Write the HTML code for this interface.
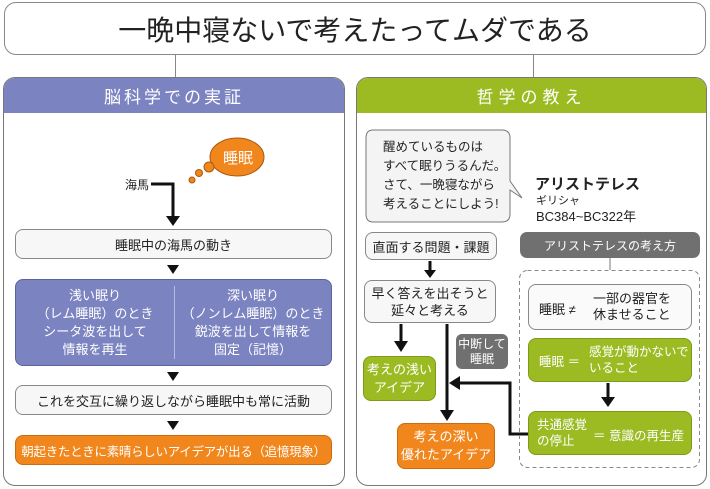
<!DOCTYPE html>
<html><head><meta charset="utf-8"><style>
*{margin:0;padding:0;box-sizing:border-box}
body{width:710px;height:489px;background:#fff;position:relative;overflow:hidden;font-family:"Liberation Sans","Noto Sans CJK JP",sans-serif;color:#222}
.a{position:absolute}
span{white-space:nowrap}
.c{display:flex;align-items:center;justify-content:center;text-align:center;white-space:nowrap}
.box{border:1px solid #888;border-radius:8px;background:#f7f7f7}
.g{background:#9cbb23;color:#fff;border:1px solid #7d9a18;border-radius:8px}
.o{background:#f0861c;color:#fff;border:1px solid #c96c10;border-radius:8px}
.tri{width:0;height:0;border-left:6px solid transparent;border-right:6px solid transparent;border-top:9px solid #111}
</style></head><body>
<div class="a c box" style="left:4px;top:2px;width:702px;height:53px;background:#fff;border-radius:12px;font-size:28px;color:#222">一晩中寝ないで考えたってムダである</div>
<div class="a" style="left:175px;top:55px;width:1px;height:22px;background:#888"></div>
<div class="a" style="left:533px;top:55px;width:1px;height:22px;background:#888"></div>

<div class="a" style="left:3px;top:77px;width:342px;height:409px;border:1px solid #777;border-radius:12px;overflow:hidden">
<div class="c" style="height:35px;background:#7b83c0;color:#fff;font-size:17px;letter-spacing:3px">脳科学での実証</div></div>
<div class="a" style="left:356px;top:77px;width:351px;height:409px;border:1px solid #777;border-radius:12px;overflow:hidden">
<div class="c" style="height:35px;background:#9cbb23;color:#fff;font-size:17px;letter-spacing:5px">哲学の教え</div></div>

<svg class="a" style="left:0;top:0" width="710" height="489">
<ellipse cx="237" cy="157" rx="27" ry="19" fill="#f0861c" stroke="#a85a10"/>
<circle cx="209" cy="167" r="5" fill="#f0861c" stroke="#a85a10"/>
<circle cx="199" cy="173" r="3.5" fill="#f0861c" stroke="#a85a10"/>
<circle cx="192" cy="180" r="3" fill="#f0861c" stroke="#a85a10"/>
<polyline points="151,184 173,184 173,218" fill="none" stroke="#111" stroke-width="3"/>
<polygon points="166,216 180,216 173,226" fill="#111"/>
<path d="M373,130 H502 Q510,130 510,138 V181 L522,198 L510,190 V214 Q510,222 502,222 H373 Q366,222 366,214 V138 Q366,130 373,130Z" fill="#f4f4f4" stroke="#777"/>
<line x1="430" y1="261" x2="430" y2="271" stroke="#111" stroke-width="3"/><polygon points="424,270 436,270 430,278" fill="#111"/>
<line x1="401" y1="324" x2="401" y2="342" stroke="#111" stroke-width="3"/><polygon points="394,341 408,341 401,352" fill="#111"/>
<line x1="447" y1="324" x2="447" y2="410" stroke="#111" stroke-width="3"/><polygon points="440,410 454,410 447,421" fill="#111"/>
<polyline points="528,434 510,434 510,383 458,383" fill="none" stroke="#111" stroke-width="3"/><polygon points="449,383 460,376 460,390" fill="#111"/>
<line x1="610" y1="258" x2="610" y2="270" stroke="#777"/>
<rect x="519.5" y="270.5" width="180" height="197" rx="8" fill="none" stroke="#888" stroke-dasharray="4,3"/>
<line x1="608" y1="383" x2="608" y2="398" stroke="#111" stroke-width="3"/><polygon points="601,397 615,397 608,407" fill="#111"/>
</svg>
<div class="a c" style="left:215px;top:145px;width:46px;height:24px;color:#fff;font-size:15px">睡眠</div>
<div class="a" style="left:125px;top:176px;font-size:12px">海馬</div>

<div class="a c box" style="left:15px;top:229px;width:317px;height:30px;font-size:13px">睡眠中の海馬の動き</div>
<div class="a tri" style="left:167px;top:265px"></div>
<div class="a" style="left:15px;top:279px;width:317px;height:87px;background:#7b83c0;border:1px solid #5b639d;border-radius:8px;color:#fff;font-size:13px;line-height:18px">
<div class="a c" style="left:0;top:0;width:158px;height:85px">浅い眠り<br>（レム睡眠）のとき<br>シータ波を出して<br>情報を再生</div>
<div class="a" style="left:158px;top:6px;width:1px;height:73px;background:#b8bce0"></div>
<div class="a c" style="left:159px;top:0;width:156px;height:85px">深い眠り<br>（ノンレム睡眠）のとき<br>鋭波を出して情報を<br>固定（記憶）</div></div>
<div class="a tri" style="left:167px;top:372px"></div>
<div class="a c box" style="left:15px;top:385px;width:317px;height:30px;font-size:13px">これを交互に繰り返しながら睡眠中も常に活動</div>
<div class="a tri" style="left:167px;top:421px"></div>
<div class="a c o" style="left:15px;top:435px;width:317px;height:30px;font-size:12.5px;letter-spacing:-0.3px">朝起きたときに素晴らしいアイデアが出る（追憶現象）</div>

<div class="a" style="left:383px;top:138px;font-size:12.5px;line-height:19px">醒めているものは<br>すべて眠りうるんだ。<br>さて、一晩寝ながら<br>考えることにしよう!</div>
<div class="a" style="left:535px;top:173px;font-size:15px;font-weight:bold">アリストテレス</div>
<div class="a" style="left:536px;top:192px;font-size:11px">ギリシャ</div>
<div class="a" style="left:536px;top:206px;font-size:13px">BC384~BC322年</div>
<div class="a c box" style="left:365px;top:232px;width:132px;height:28px;font-size:13px">直面する問題・課題</div>
<div class="a c box" style="left:364px;top:280px;width:132px;height:43px;font-size:13px;line-height:17px">早く答えを出そうと<br>延々と考える</div>
<div class="a c g" style="left:363px;top:356px;width:73px;height:45px;font-size:13px;line-height:18px">考えの浅い<br>アイデア</div>
<div class="a c" style="left:456px;top:334px;width:52px;height:35px;background:#707070;color:#fff;border-radius:6px;font-size:12px;line-height:15px">中断して<br>睡眠</div>
<div class="a c o" style="left:397px;top:423px;width:98px;height:46px;font-size:13px;line-height:18px">考えの深い<br>優れたアイデア</div>
<div class="a c" style="left:520px;top:232px;width:180px;height:26px;background:#707070;color:#fff;border-radius:7px;font-size:12px">アリストテレスの考え方</div>
<div class="a box" style="left:528px;top:284px;width:164px;height:46px;background:#fafafa;font-size:13px"><span class="a" style="left:10px;top:14px">睡眠 ≠</span><span class="a" style="left:64px;top:6px;line-height:16px">一部の器官を<br>休ませること</span></div>
<div class="a g" style="left:528px;top:338px;width:164px;height:44px;font-size:12.5px"><span class="a" style="left:10px;top:12px">睡眠 ＝</span><span class="a" style="left:60px;top:5px;line-height:16px">感覚が動かないで<br>いること</span></div>
<div class="a g" style="left:528px;top:411px;width:164px;height:44px;font-size:12.5px"><span class="a" style="left:8px;top:5px;line-height:16px">共通感覚<br>の停止</span><span class="a" style="left:64px;top:13px">＝ 意識の再生産</span></div>
</body></html>
